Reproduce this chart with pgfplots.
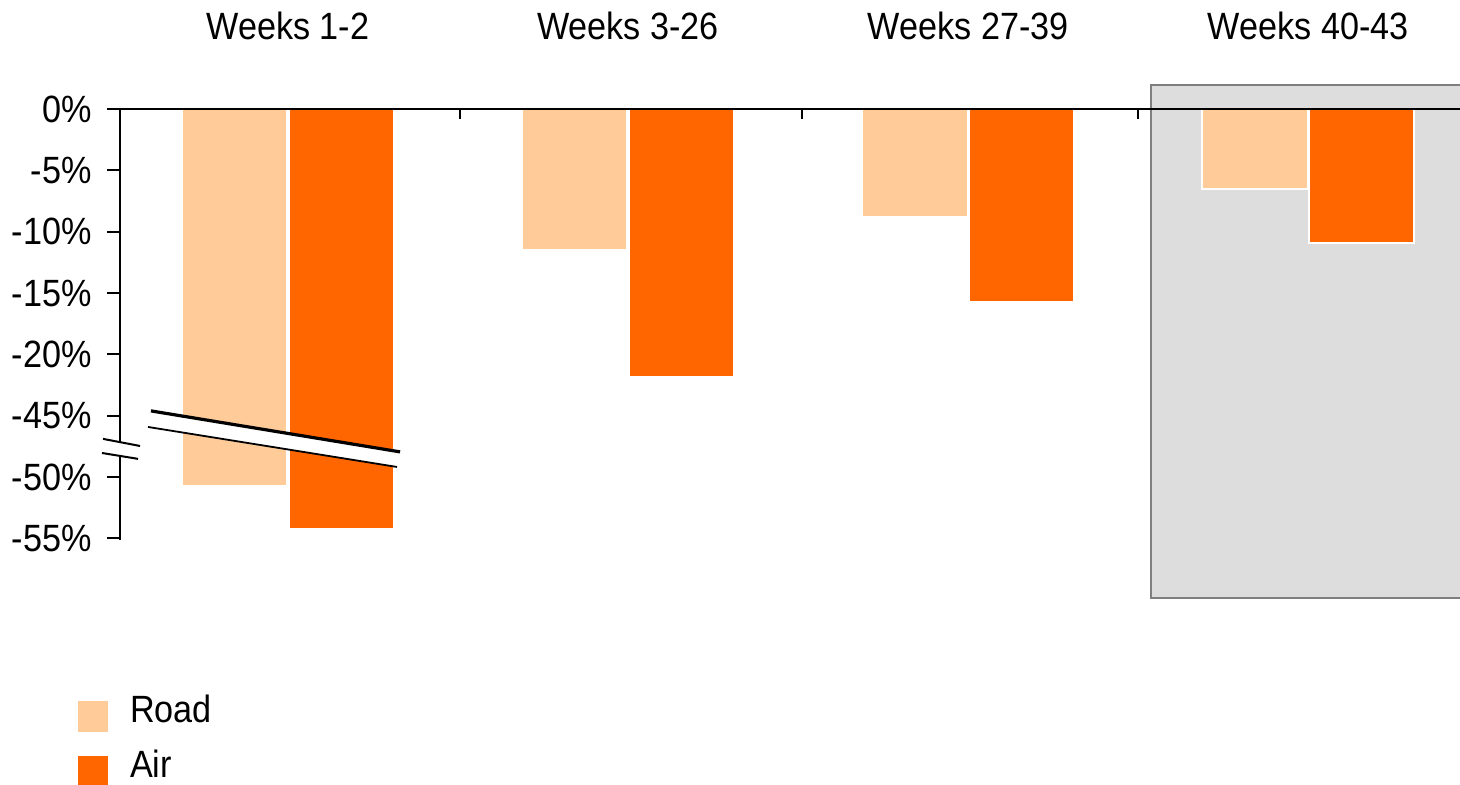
\documentclass[border=0pt]{standalone}
\usepackage{pgfplots}
\pgfplotsset{compat=1.18}
\usepackage{fontspec}
\setmainfont{Liberation Sans}[FakeStretch=0.9]
\definecolor{road}{HTML}{FFCC99}
\definecolor{air}{HTML}{FF6600}
\definecolor{boxgray}{HTML}{DDDDDD}
\definecolor{boxedge}{HTML}{7F7F7F}
\begin{document}
\fontsize{19}{22.8}\selectfont
\begin{tikzpicture}
\begin{axis}[
  set layers, axis on top,
  scale only axis, width=670pt, height=215.3pt,
  xmin=-0.494, xmax=3.446, ymin=-35.1, ymax=0,
  clip=false,
  axis x line*=top, axis y line*=left,
  x axis line style={line width=1pt},
  y axis line style={draw=none},
  major tick length=0pt, tick style={draw=none},
  xtick={0,1,2,3},
  xticklabels={Weeks 1-2, Weeks 3-26, Weeks 27-39, Weeks 40-43},
  xticklabel style={anchor=base, yshift=34.5pt, font=\fontsize{19}{22.8}\selectfont},
  ytick={0,-5,-10,-15,-20,-25,-30,-35},
  yticklabels={0\%,-5\%,-10\%,-15\%,-20\%,-45\%,-50\%,-55\%},
  yticklabel style={anchor=east, inner sep=0pt, xshift=-14pt, font=\fontsize{19}{22.8}\selectfont},
  legend style={at={(rel axis cs:0,0)}, anchor=north west, xshift=-21pt, yshift=-78.5pt,
    draw=none, fill=none, inner sep=0pt, outer sep=0pt, row sep=10pt, column sep=11pt,
    font=\fontsize{19}{22.8}\selectfont,
    nodes={inner sep=0pt, outer sep=0pt, text height=13pt, text depth=0pt}},
  legend cell align=left,
  legend image code/.code={\fill[#1, draw=none] (0pt,-11pt) rectangle (15pt,4.5pt);},
]
\begin{pgfonlayer}{axis background}
  \fill[boxgray] (axis cs:2.538,1.96) rectangle (axis cs:3.446,-39.85);
  \draw[boxedge, line width=1pt] (axis cs:3.446,1.96) -- (axis cs:2.538,1.96) -- (axis cs:2.538,-39.85) -- (axis cs:3.446,-39.85);
\end{pgfonlayer}
\addplot[ybar, bar width=0.31, bar shift=-0.157, fill=road, draw=white, line width=1pt]
  coordinates {(0,-30.73) (1,-11.49) (2,-8.80) (3,-6.54)};
\addlegendentry{Road}
\addplot[ybar, bar width=0.31, bar shift=0.157, fill=air, draw=white, line width=1pt]
  coordinates {(0,-34.25) (1,-21.84) (2,-15.73) (3,-10.90)};
\addlegendentry{Air}
% broken-axis band across the first group
\fill[white] (axis cs:-0.403,-24.61) -- (axis cs:0.3295,-27.95) -- (axis cs:0.3207,-29.18) -- (axis cs:-0.4116,-25.92) -- cycle;
\draw[line width=1.6pt] (axis cs:-0.403,-24.61) -- (axis cs:0.3295,-27.95);
\draw[line width=0.9pt] (axis cs:-0.4116,-25.92) -- (axis cs:0.3207,-29.18);
% y axis with break
\draw[line width=1pt] (axis cs:-0.494,0) -- (axis cs:-0.494,-27.14);
\draw[line width=1pt] (axis cs:-0.494,-28.28) -- (axis cs:-0.494,-35.1);
\draw[line width=1pt] (axis cs:-0.544,-26.89) -- (axis cs:-0.435,-27.47);
\draw[line width=1pt] (axis cs:-0.547,-28.04) -- (axis cs:-0.441,-28.52);
% y ticks
\pgfplotsinvokeforeach{0,-5,-10,-15,-20,-25,-30,-35}{
  \draw[line width=1pt] (axis cs:-0.494,#1) -- ++(-6.5pt,0pt);
}
% x ticks at group boundaries
\pgfplotsinvokeforeach{0.506,1.512,2.5}{
  \draw[line width=1pt] (axis cs:#1,0) -- ++(0pt,-5pt);
}
\coordinate (O) at (rel axis cs:0,1);
\end{axis}
\pgfresetboundingbox
\path ([xshift=-60pt,yshift=54.5pt]O) rectangle ([xshift=670pt,yshift=-338pt]O);
\end{tikzpicture}
\end{document}
